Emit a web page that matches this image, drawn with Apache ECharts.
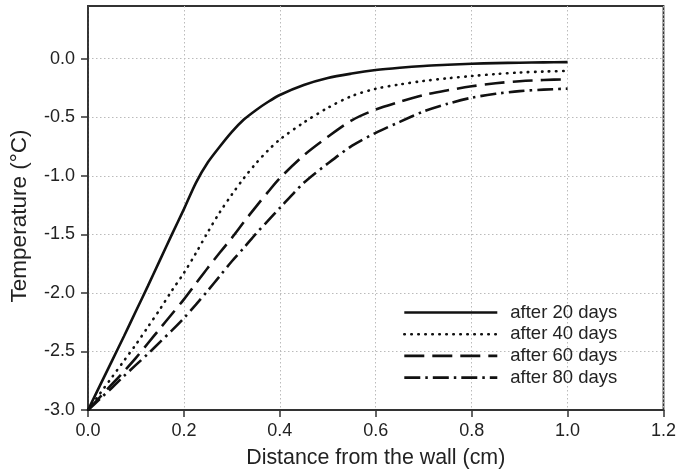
<!DOCTYPE html>
<html>
<head>
<meta charset="utf-8">
<script src="https://cdn.jsdelivr.net/npm/echarts@6/dist/echarts.min.js"></script>
<style>
html,body{margin:0;padding:0;background:#fff;}
#chart{width:679px;height:474px;}
</style>
</head>
<body>
<div id="chart"></div>
<script>
// Distance from the wall (cm)
var distance = [0, 0.025, 0.05, 0.075, 0.1, 0.125, 0.15, 0.175, 0.2, 0.225, 0.25, 0.275, 0.3, 0.325, 0.35, 0.375, 0.4, 0.45, 0.5, 0.55, 0.6, 0.65, 0.7, 0.75, 0.8, 0.85, 0.9, 0.95, 1.0];
// Temperature (°C)
var after20 = [-3, -2.79, -2.58, -2.37, -2.155, -1.94, -1.72, -1.5, -1.285, -1.06, -0.885, -0.75, -0.625, -0.52, -0.44, -0.37, -0.31, -0.225, -0.165, -0.127, -0.097, -0.077, -0.062, -0.052, -0.043, -0.038, -0.034, -0.031, -0.029];
var after40 = [-3, -2.86, -2.72, -2.58, -2.44, -2.29, -2.14, -1.98, -1.83, -1.66, -1.48, -1.31, -1.16, -1.02, -0.895, -0.785, -0.69, -0.545, -0.42, -0.319, -0.257, -0.22, -0.19, -0.167, -0.148, -0.131, -0.118, -0.11, -0.104];
var after60 = [-3, -2.89, -2.78, -2.67, -2.555, -2.43, -2.305, -2.18, -2.055, -1.92, -1.785, -1.655, -1.53, -1.395, -1.265, -1.14, -1.02, -0.825, -0.667, -0.526, -0.434, -0.368, -0.31, -0.27, -0.236, -0.21, -0.192, -0.182, -0.176];
var after80 = [-3, -2.905, -2.81, -2.71, -2.615, -2.52, -2.42, -2.32, -2.215, -2.1, -1.98, -1.855, -1.73, -1.615, -1.495, -1.385, -1.275, -1.06, -0.895, -0.745, -0.633, -0.54, -0.45, -0.385, -0.333, -0.3, -0.277, -0.264, -0.256];
var seriesNames = ['after 20 days', 'after 40 days', 'after 60 days', 'after 80 days'];
var xTicks = [0, 0.2, 0.4, 0.6, 0.8, 1.0, 1.2];
var yTicks = [-3.0, -2.5, -2.0, -1.5, -1.0, -0.5, 0.0];

function pairs(ys) {
  return distance.map(function (x, i) { return [x, ys[i]]; });
}

var FONT = '"Liberation Sans", Arial, Helvetica, sans-serif';
var AX = '#333';
var styles = [
  { width: 2.6, type: 'solid', cap: 'butt' },
  { width: 2.6, type: [0.5, 6.5], cap: 'round' },
  { width: 2.6, type: [20, 8], cap: 'butt' },
  { width: 2.6, type: [16, 5, 2.5, 5], cap: 'butt' }
];
var allValues = [after20, after40, after60, after80];

var chart = echarts.init(document.getElementById('chart'), null, { renderer: 'canvas' });
chart.setOption({
  animation: false,
  backgroundColor: '#fff',
  grid: {
    left: 86, right: 13, top: 6, bottom: 63,
    show: true, borderColor: AX, borderWidth: 1.8, backgroundColor: 'transparent'
  },
  legend: {
    orient: 'vertical',
    left: 403, top: 303, padding: 0,
    itemWidth: 93, itemHeight: 14, itemGap: 2.7,
    lineStyle: { width: 'inherit' },
    itemStyle: { opacity: 0 },
    textStyle: { fontFamily: FONT, fontSize: 18.5, color: '#222', padding: [0, 0, 0, 8] },
    data: seriesNames
  },
  xAxis: {
    type: 'value', min: 0, max: 1.2, interval: 0.2,
    name: 'Distance from the wall (cm)', nameLocation: 'middle', nameGap: 38,
    nameTextStyle: { fontFamily: FONT, fontSize: 21.4, color: '#222' },
    axisLine: { show: true, onZero: false, lineStyle: { color: AX, width: 1.8 } },
    axisTick: { show: true, length: 7, lineStyle: { color: AX, width: 1.5 } },
    axisLabel: {
      fontFamily: FONT, fontSize: 18, color: '#222', margin: 12,
      formatter: function (v) { return v.toFixed(1); }
    },
    splitLine: { show: true, lineStyle: { color: '#bbb', width: 1, type: [1.5, 2.5] } }
  },
  yAxis: {
    type: 'value', min: -3, max: 0.45,
    name: 'Temperature (°C)', nameLocation: 'middle', nameGap: 57,
    nameTextStyle: { fontFamily: FONT, fontSize: 22.5, color: '#222', padding: [0, 16, 0, 0] },
    axisLine: { show: true, onZero: false, lineStyle: { color: AX, width: 1.8 } },
    axisTick: { show: true, length: 7, customValues: yTicks, lineStyle: { color: AX, width: 1.5 } },
    axisLabel: {
      fontFamily: FONT, fontSize: 18, color: '#222', margin: 13, customValues: yTicks,
      formatter: function (v) { return v.toFixed(1); }
    },
    splitLine: { show: true, lineStyle: { color: '#bbb', width: 1, type: [1.5, 2.5] } }
  },
  series: seriesNames.map(function (name, k) {
    return {
      name: name,
      type: 'line',
      data: pairs(allValues[k]),
      smooth: 0.3,
      symbol: 'none',
      showSymbol: false,
      color: '#111',
      lineStyle: { color: '#111', width: styles[k].width, type: styles[k].type, cap: styles[k].cap },
      z: 3
    };
  })
});
</script>
</body>
</html>
